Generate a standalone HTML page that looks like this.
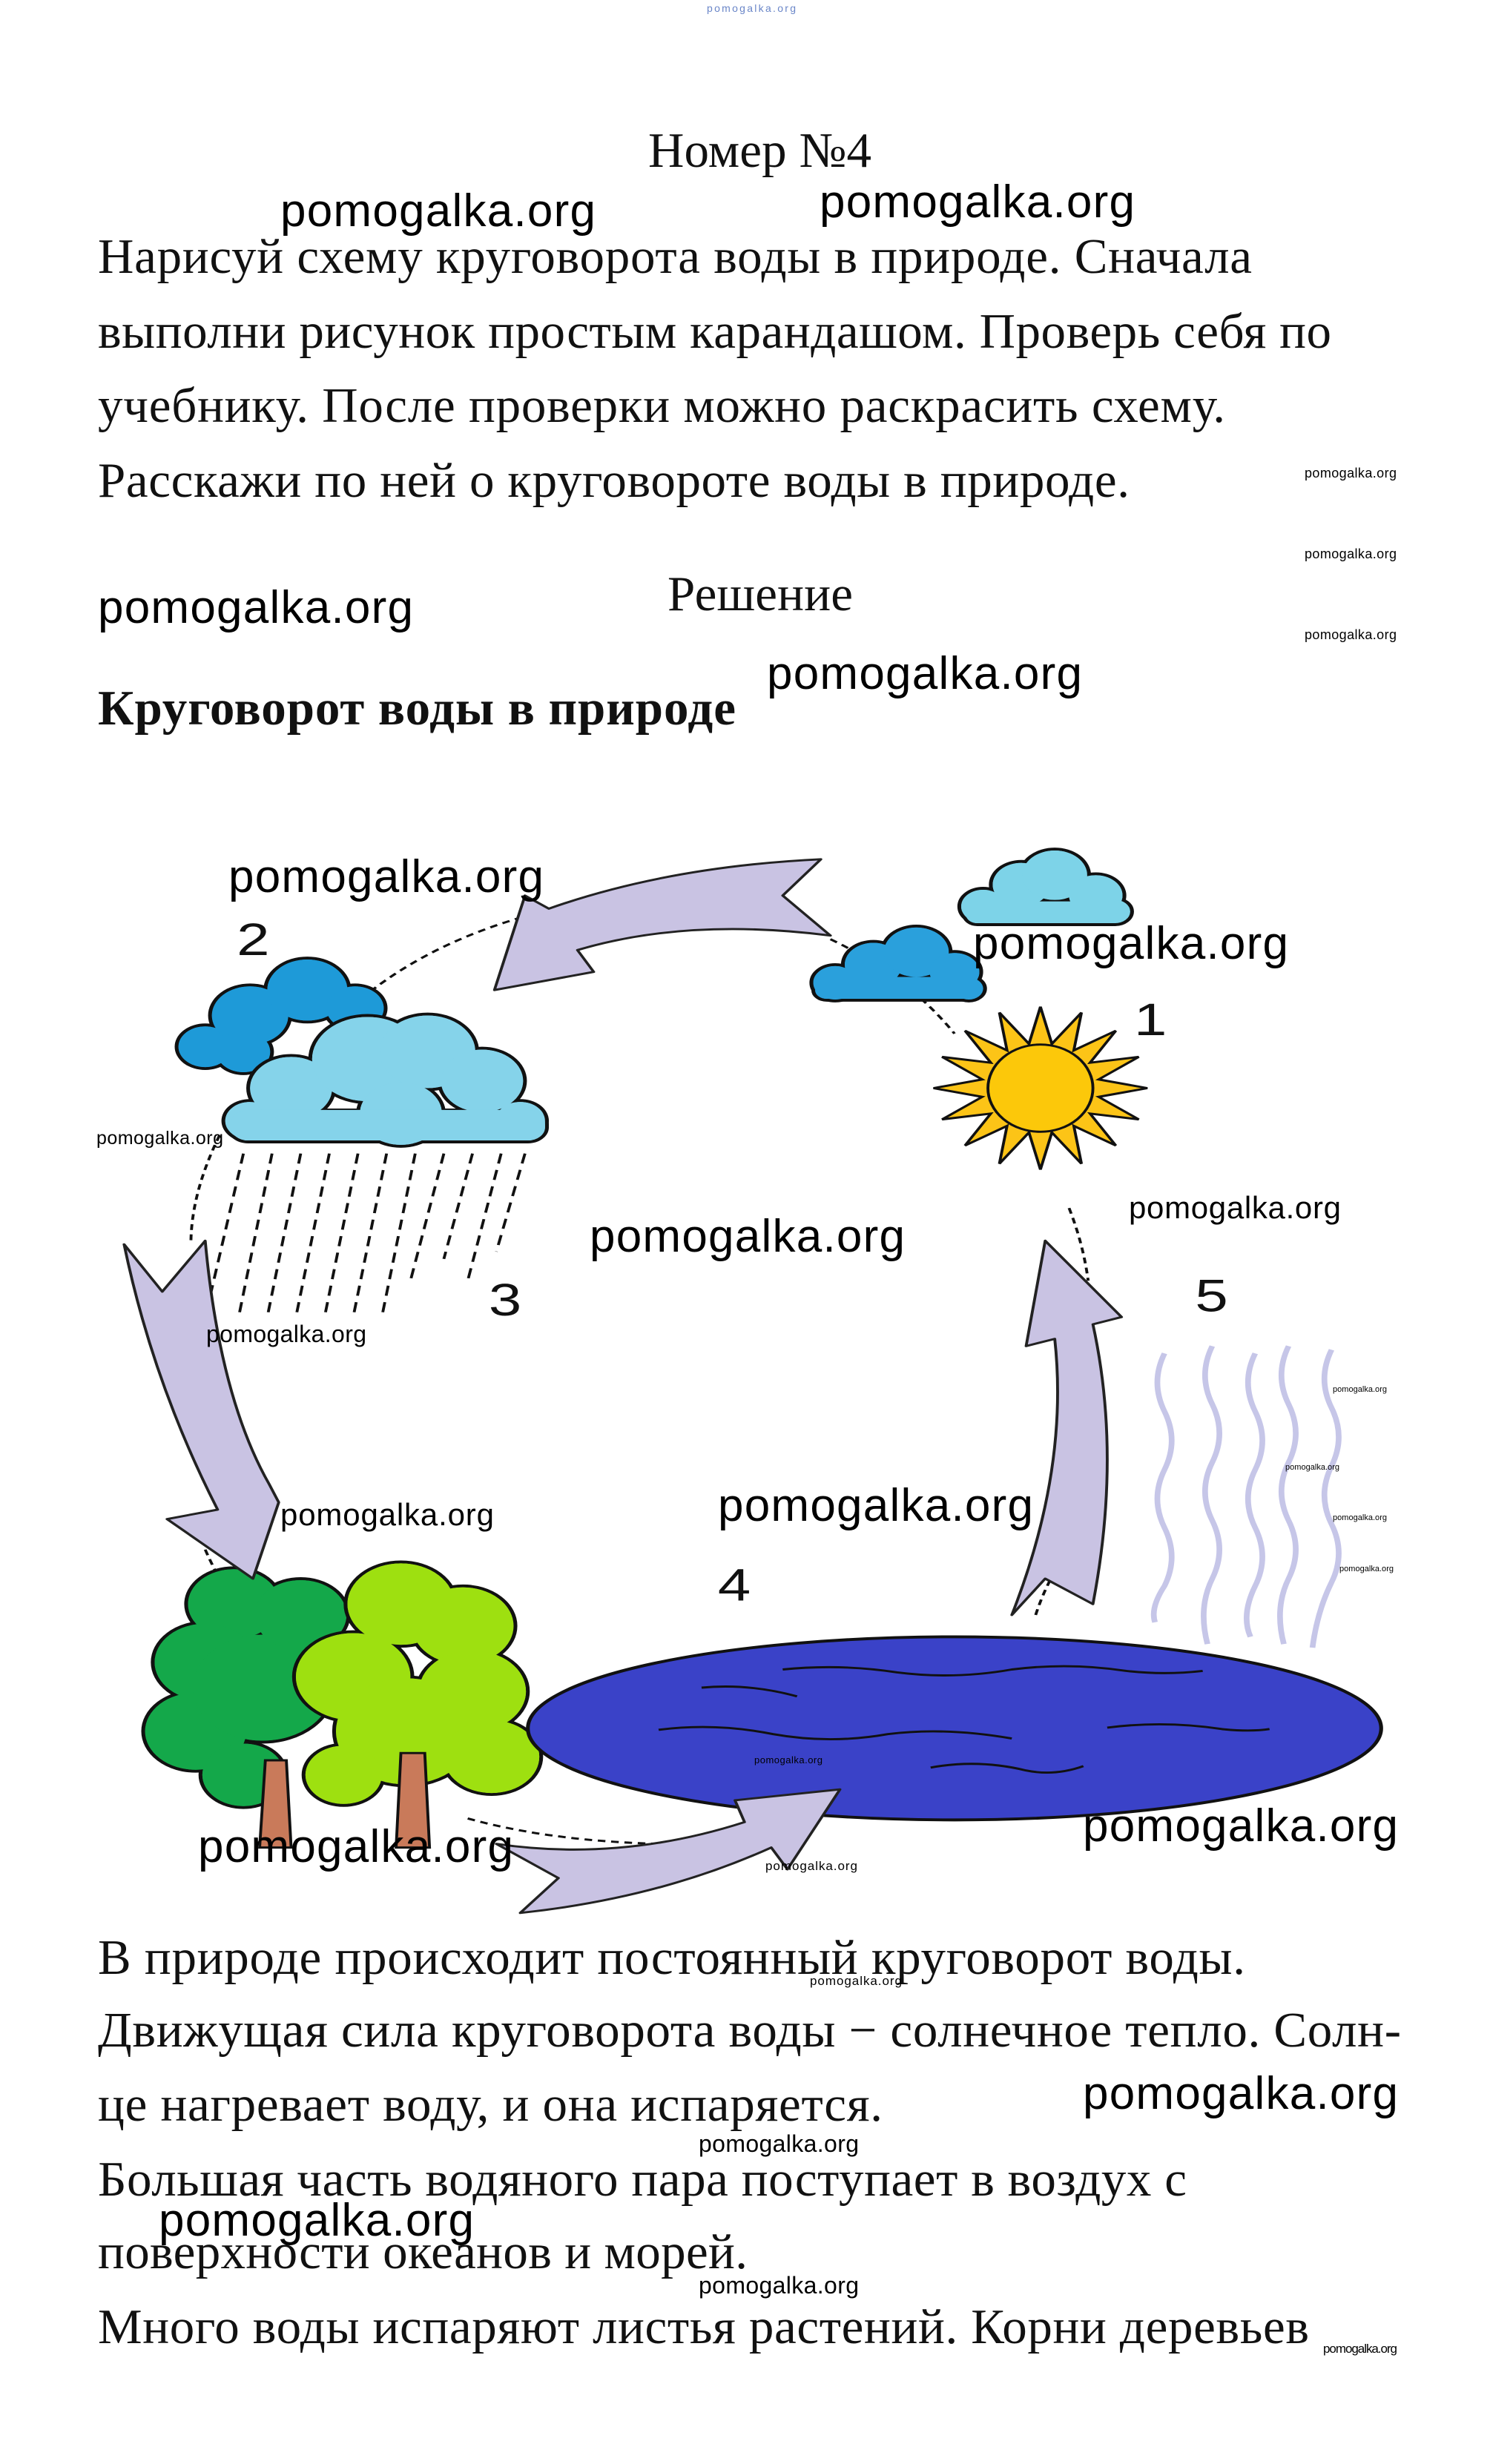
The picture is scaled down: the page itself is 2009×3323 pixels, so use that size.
<!DOCTYPE html>
<html><head><meta charset="utf-8"><style>
html,body{margin:0;padding:0;background:#fff}
svg{display:block}
.t{font-family:"Liberation Serif","Noto Serif CJK SC",serif;font-size:67px;fill:#111}
.w{font-family:"Liberation Sans","DejaVu Sans",sans-serif;fill:#000}
</style></head><body>
<svg width="2009" height="3323" viewBox="0 0 2009 3323" xmlns="http://www.w3.org/2000/svg">
<rect width="2009" height="3323" fill="#fff"/>
<text x="953" y="16" font-family="Liberation Sans, sans-serif" font-size="14" textLength="120" fill="#6a86c8">pomogalka.org</text>

<text x="874" y="225" class="t" textLength="301">Номер №4</text>
<text x="132" y="368" class="t" textLength="1556">Нарисуй схему круговорота воды в природе. Сначала</text>
<text x="132" y="469" class="t" textLength="1663">выполни рисунок простым карандашом. Проверь себя по</text>
<text x="132" y="569" class="t" textLength="1520">учебнику. После проверки можно раскрасить схему.</text>
<text x="132" y="670" class="t" textLength="1391">Расскажи по ней о круговороте воды в природе.</text>
<text x="900" y="823" class="t" textLength="250">Решение</text>
<text x="132" y="977" class="t" font-weight="bold" textLength="860">Круговорот воды в природе</text>

<text x="132" y="2662" class="t" textLength="1547">В природе происходит постоянный круговорот воды.</text>
<text x="132" y="2760" class="t" textLength="1757">Движущая сила круговорота воды − солнечное тепло. Солн-</text>
<text x="132" y="2860" class="t" textLength="1058">це нагревает воду, и она испаряется.</text>
<text x="132" y="2961" class="t" textLength="1468">Большая часть водяного пара поступает в воздух с</text>
<text x="132" y="3059" class="t" textLength="876">поверхности океанов и морей.</text>
<text x="132" y="3160" class="t" textLength="1633">Много воды испаряют листья растений. Корни деревьев</text>

<g transform="translate(0,1100) scale(1.287,0.98)">
 <g fill="none" stroke="#111" stroke-width="3" stroke-dasharray="8 6">
  <path d="M870,170 Q950,220 1000,300"/>
  <path d="M560,135 Q460,170 390,240"/>
  <path d="M230,440 Q200,520 200,590"/>
  <path d="M215,1010 Q225,1040 235,1060"/>
  <path d="M490,1380 Q600,1420 760,1415"/>
  <path d="M1085,1100 Q1095,1060 1110,1030"/>
  <path d="M1120,540 Q1135,590 1140,640"/>
 </g>
 <g stroke="#111" stroke-width="4" fill="#7dd3e8">
  <circle cx="1030" cy="125" r="25"/><circle cx="1070" cy="95" r="32"/><circle cx="1105" cy="82" r="36"/><circle cx="1148" cy="110" r="30"/><circle cx="1168" cy="132" r="18"/><rect x="1010" y="118" width="170" height="32" rx="14"/>
 </g>
 <g fill="#7dd3e8">
  <circle cx="1030" cy="125" r="23"/><circle cx="1070" cy="95" r="30"/><circle cx="1105" cy="82" r="34"/><circle cx="1148" cy="110" r="28"/><circle cx="1168" cy="132" r="16"/><rect x="1012" y="118" width="166" height="30" rx="12"/>
 </g>
 <g stroke="#111" stroke-width="4" fill="#2aa0dc">
  <circle cx="875" cy="230" r="25"/><circle cx="915" cy="205" r="32"/><circle cx="960" cy="188" r="36"/><circle cx="1000" cy="215" r="28"/><circle cx="1015" cy="238" r="17"/><rect x="852" y="222" width="176" height="32" rx="14"/>
 </g>
 <g fill="#2aa0dc">
  <circle cx="875" cy="230" r="23"/><circle cx="915" cy="205" r="30"/><circle cx="960" cy="188" r="34"/><circle cx="1000" cy="215" r="26"/><circle cx="1015" cy="238" r="15"/><rect x="854" y="222" width="172" height="30" rx="12"/>
 </g>
 <g stroke="#111" stroke-width="4" fill="#1e9ad8">
  <circle cx="215" cy="318" r="30"/><circle cx="262" cy="275" r="42"/><circle cx="322" cy="240" r="44"/><circle cx="372" cy="265" r="32"/><circle cx="255" cy="325" r="30"/>
 </g>
 <g fill="#1e9ad8">
  <circle cx="215" cy="318" r="28"/><circle cx="262" cy="275" r="40"/><circle cx="322" cy="240" r="42"/><circle cx="372" cy="265" r="30"/><circle cx="255" cy="325" r="28"/>
 </g>
 <g stroke="#111" stroke-width="4" fill="#85d3ea">
  <circle cx="262" cy="420" r="28"/><circle cx="305" cy="375" r="45"/><circle cx="385" cy="335" r="60"/><circle cx="448" cy="325" r="52"/><circle cx="505" cy="365" r="45"/><circle cx="545" cy="420" r="28"/><circle cx="420" cy="410" r="45"/><rect x="240" y="405" width="333" height="44" rx="20"/>
 </g>
 <g fill="#85d3ea">
  <circle cx="262" cy="420" r="26"/><circle cx="305" cy="375" r="43"/><circle cx="385" cy="335" r="58"/><circle cx="448" cy="325" r="50"/><circle cx="505" cy="365" r="43"/><circle cx="545" cy="420" r="26"/><circle cx="420" cy="410" r="43"/><rect x="242" y="405" width="329" height="42" rx="18"/>
 </g>
 <g stroke="#111" stroke-width="3" stroke-dasharray="14 9">
  <path d="M255,465 L215,690"/><path d="M285,465 L250,690"/><path d="M315,465 L280,690"/><path d="M345,465 L310,690"/><path d="M375,465 L340,690"/><path d="M405,465 L370,690"/><path d="M435,465 L400,690"/><path d="M465,465 L430,640"/><path d="M495,465 L465,610"/><path d="M525,465 L490,640"/><path d="M550,465 L520,600"/>
 </g>
 <polygon fill="#fcc417" stroke="#111" stroke-width="3" points="1202,375 1151,387 1193,418 1142,410 1169,454 1125,427 1133,479 1102,436 1090,487 1078,436 1047,479 1055,427 1011,454 1038,410 987,418 1029,387 978,375 1029,363 987,332 1038,340 1011,296 1055,323 1047,271 1078,314 1090,263 1102,314 1133,271 1125,323 1169,296 1142,340 1193,332 1151,363"/>
 <ellipse cx="1090" cy="375" rx="55" ry="60" fill="#fcc80a" stroke="#111" stroke-width="3"/>
 <g fill="none" stroke="#c6c6e8" stroke-width="6">
  <path d="M1220,740 q-15,40 0,80 q15,40 0,80 q-15,40 0,80 q15,40 0,80 q-15,30 -10,50"/>
  <path d="M1270,730 q-15,40 0,80 q15,40 0,80 q-15,40 0,80 q15,40 0,80 q-15,40 -5,90"/>
  <path d="M1315,740 q-15,40 0,80 q15,40 0,80 q-15,40 0,80 q15,40 0,80 q-15,40 -5,70"/>
  <path d="M1350,730 q-15,40 0,80 q15,40 0,80 q-15,40 0,80 q15,40 0,80 q-15,40 -5,90"/>
  <path d="M1395,735 q-15,40 0,80 q15,40 0,80 q-15,40 0,80 q15,40 0,80 q-15,40 -20,90"/>
 </g>
 <g stroke="#111" stroke-width="4" fill="#14a84a">
  <circle cx="245" cy="1085" r="50"/><circle cx="215" cy="1165" r="55"/><circle cx="205" cy="1260" r="55"/><circle cx="275" cy="1200" r="75"/><circle cx="315" cy="1100" r="50"/><circle cx="255" cy="1320" r="45"/>
 </g>
 <g fill="#14a84a">
  <circle cx="245" cy="1085" r="48"/><circle cx="215" cy="1165" r="53"/><circle cx="205" cy="1260" r="53"/><circle cx="275" cy="1200" r="73"/><circle cx="315" cy="1100" r="48"/><circle cx="255" cy="1320" r="43"/>
 </g>
 <path d="M278,1300 L300,1300 L305,1420 L272,1420 Z" fill="#c97a5a" stroke="#111" stroke-width="3"/>
 <g stroke="#111" stroke-width="4" fill="#9ee010">
  <circle cx="420" cy="1085" r="58"/><circle cx="485" cy="1115" r="55"/><circle cx="370" cy="1185" r="62"/><circle cx="495" cy="1205" r="58"/><circle cx="425" cy="1260" r="75"/><circle cx="515" cy="1295" r="52"/><circle cx="360" cy="1320" r="42"/>
 </g>
 <g fill="#9ee010">
  <circle cx="420" cy="1085" r="56"/><circle cx="485" cy="1115" r="53"/><circle cx="370" cy="1185" r="60"/><circle cx="495" cy="1205" r="56"/><circle cx="425" cy="1260" r="73"/><circle cx="515" cy="1295" r="50"/><circle cx="360" cy="1320" r="40"/>
 </g>
 <path d="M420,1290 L445,1290 L450,1420 L415,1420 Z" fill="#c97a5a" stroke="#111" stroke-width="3"/>
 <ellipse cx="1000" cy="1256" rx="447" ry="126" fill="#3a42c8" stroke="#111" stroke-width="4"/>
 <g fill="none" stroke="#111" stroke-width="3">
  <path d="M820,1175 q60,-8 120,4 q60,10 120,-4 q60,-10 120,2 q40,6 80,0"/>
  <path d="M735,1200 q50,-6 100,12"/>
  <path d="M690,1258 q60,-10 120,6 q60,14 120,0 q60,-10 130,6"/>
  <path d="M1160,1255 q60,-10 120,2 q30,4 50,0"/>
  <path d="M975,1310 q50,-12 100,4 q30,8 60,-6"/>
 </g>
 <g fill="#c9c3e3" stroke="#222" stroke-width="3" stroke-linejoin="round">
  <path d="M860,60 L820,110 L870,165 Q720,140 605,185 L622,215 L518,240 L550,110 L575,128 Q700,70 860,60 Z"/>
  <path d="M130,590 L170,655 L215,585 Q230,800 282,920 L292,945 L265,1050 L175,968 L228,955 Q160,780 130,590 Z"/>
  <path d="M520,1415 Q650,1440 780,1385 L770,1355 L880,1340 L825,1450 L808,1420 Q690,1490 545,1510 L585,1462 Z"/>
  <path d="M1060,1100 L1095,1050 L1145,1085 Q1175,880 1145,700 L1175,690 L1095,585 L1075,730 L1105,720 Q1120,900 1060,1100 Z"/>
 </g>
 <g font-family="Liberation Sans, sans-serif" font-size="62" fill="#111">
  <text x="248" y="192">2</text><text x="1188" y="302">1</text><text x="512" y="688">3</text><text x="1252" y="682">5</text><text x="752" y="1080">4</text>
 </g>
</g>

<g transform="translate(0,-16)">
 <text x="378" y="321" font-size="62" textLength="425" class="w">pomogalka.org</text>
 <text x="1105" y="309" font-size="62" textLength="425" class="w">pomogalka.org</text>
 <text x="132" y="856" font-size="62" textLength="425" class="w">pomogalka.org</text>
 <text x="1034" y="945" font-size="62" textLength="425" class="w">pomogalka.org</text>
 <text x="1759" y="660" font-size="18" textLength="124" class="w">pomogalka.org</text>
 <text x="1759" y="769" font-size="18" textLength="124" class="w">pomogalka.org</text>
 <text x="1759" y="878" font-size="18" textLength="124" class="w">pomogalka.org</text>
 <text x="308" y="1219" font-size="62" textLength="425" class="w">pomogalka.org</text>
 <text x="1312" y="1309" font-size="62" textLength="425" class="w">pomogalka.org</text>
 <text x="130" y="1559" font-size="25" textLength="171" class="w">pomogalka.org</text>
 <text x="1522" y="1659" font-size="42" textLength="286" class="w">pomogalka.org</text>
 <text x="795" y="1704" font-size="62" textLength="425" class="w">pomogalka.org</text>
 <text x="278" y="1826" font-size="32" textLength="216" class="w">pomogalka.org</text>
 <text x="378" y="2073" font-size="42" textLength="288" class="w">pomogalka.org</text>
 <text x="968" y="2067" font-size="62" textLength="425" class="w">pomogalka.org</text>
 <text x="1797" y="1893" font-size="11" textLength="73" class="w">pomogalka.org</text>
 <text x="1733" y="1998" font-size="11" textLength="73" class="w">pomogalka.org</text>
 <text x="1797" y="2066" font-size="11" textLength="73" class="w">pomogalka.org</text>
 <text x="1806" y="2135" font-size="11" textLength="73" class="w">pomogalka.org</text>
 <text x="1017" y="2394" font-size="13" textLength="92" class="w">pomogalka.org</text>
 <text x="1032" y="2538" font-size="17" textLength="124" class="w">pomogalka.org</text>
 <text x="267" y="2527" font-size="62" textLength="425" class="w">pomogalka.org</text>
 <text x="1460" y="2499" font-size="62" textLength="425" class="w">pomogalka.org</text>
 <text x="1092" y="2693" font-size="17" textLength="124" class="w">pomogalka.org</text>
 <text x="1460" y="2860" font-size="62" textLength="425" class="w">pomogalka.org</text>
 <text x="942" y="2918" font-size="32" textLength="216" class="w">pomogalka.org</text>
 <text x="214" y="3031" font-size="62" textLength="425" class="w">pomogalka.org</text>
 <text x="942" y="3109" font-size="32" textLength="216" class="w">pomogalka.org</text>
 <text x="1784" y="3189" font-size="17" textLength="100" class="w">pomogalka.org</text>
</g>
</svg>
</body></html>
